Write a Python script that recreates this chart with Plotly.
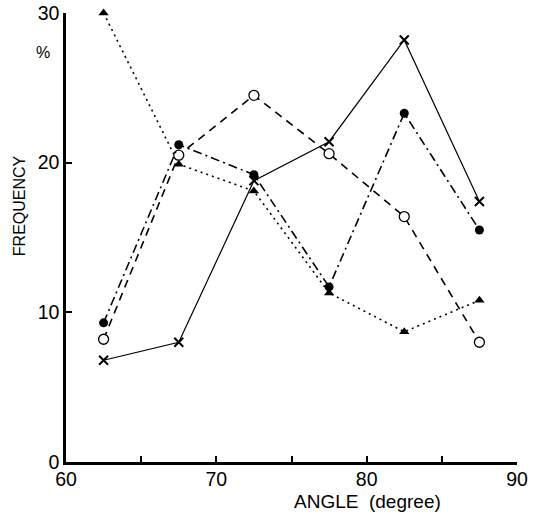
import plotly.graph_objects as go

angles = [62.5, 67.5, 72.5, 77.5, 82.5, 87.5]
freq_cross = [6.8, 8.0, 18.8, 21.4, 28.2, 17.4]
freq_filled_circle = [9.3, 21.2, 19.2, 11.7, 23.3, 15.5]
freq_open_circle = [8.2, 20.5, 24.5, 20.6, 16.4, 8.0]
freq_triangle = [30.0, 19.9, 18.1, 11.3, 8.7, 10.8]

x_ticks = [60, 70, 80, 90]
y_ticks = [0, 10, 20, 30]

FONT = "Liberation Sans"
fig = go.Figure()

fig.add_trace(go.Scatter(
    x=angles, y=freq_triangle, mode="lines+markers",
    line=dict(color="black", width=1.6, dash="2px,4px"),
    marker=dict(symbol="triangle-up", size=9, color="black"),
    cliponaxis=False, showlegend=False))
fig.add_trace(go.Scatter(
    x=angles, y=freq_open_circle, mode="lines+markers",
    line=dict(color="black", width=1.6, dash="8px,6px"),
    marker=dict(symbol="circle", size=10, color="white", line=dict(color="black", width=1.3)),
    cliponaxis=False, showlegend=False))
fig.add_trace(go.Scatter(
    x=angles, y=freq_filled_circle, mode="lines+markers",
    line=dict(color="black", width=1.6, dash="9px,4px,2px,4px"),
    marker=dict(symbol="circle", size=9, color="black"),
    cliponaxis=False, showlegend=False))
fig.add_trace(go.Scatter(
    x=angles, y=freq_cross, mode="lines+markers",
    line=dict(color="black", width=1.2),
    marker=dict(symbol="x-thin", size=9, color="black", line=dict(color="black", width=2)),
    cliponaxis=False, showlegend=False))

fig.update_xaxes(
    range=[60, 90], tickvals=x_ticks, ticktext=[str(v) for v in x_ticks],
    ticks="inside", ticklen=6, tickwidth=1.5, tickcolor="black",
    minor=dict(dtick=5, tick0=60, ticks="inside", ticklen=6, tickwidth=1.5, tickcolor="black", showgrid=False),
    showline=True, linecolor="black", linewidth=2.5, showgrid=False, zeroline=False,
    automargin=False, ticklabelstandoff=-2, ticklabeloverflow="allow",
    tickfont=dict(family=FONT, size=19.5, color="black"))
fig.update_yaxes(
    range=[0, 30], tickvals=y_ticks, ticktext=[str(v) for v in y_ticks],
    ticks="inside", ticklen=6, tickwidth=1.5, tickcolor="black",
    showline=True, linecolor="black", linewidth=2.5, showgrid=False, zeroline=False,
    automargin=False, ticklabelstandoff=0, ticklabeloverflow="allow",
    tickfont=dict(family=FONT, size=19.5, color="black"))

fig.add_annotation(text="ANGLE  (degree)", xref="paper", yref="paper",
                   x=0.669, y=-0.089, xanchor="center", yanchor="middle",
                   showarrow=False, font=dict(family=FONT, size=19, color="black"))
fig.add_annotation(text="FREQUENCY", xref="paper", yref="paper",
                   x=-0.104, y=0.570, xanchor="center", yanchor="middle", textangle=-90,
                   showarrow=False, font=dict(family=FONT, size=16, color="black"))
fig.add_annotation(text="%", xref="paper", yref="paper",
                   x=-0.051, y=0.913, xanchor="center", yanchor="middle",
                   showarrow=False, font=dict(family=FONT, size=16, color="black"))

fig.update_layout(
    width=534, height=515,
    margin=dict(l=66, r=17, t=13, b=53),
    paper_bgcolor="white", plot_bgcolor="white",
    font=dict(family=FONT, color="black"))

fig.write_html("out.html",
               config={"displayModeBar": False},
               post_script="document.body.style.margin='0';document.body.style.padding='0';")
